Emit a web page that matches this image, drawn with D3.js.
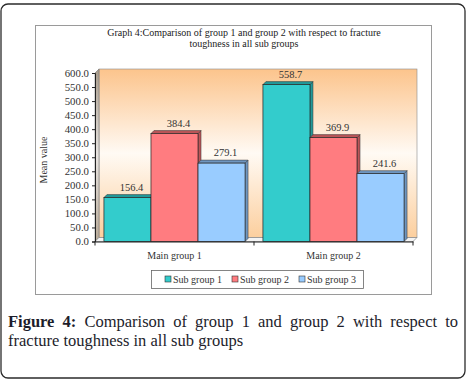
<!DOCTYPE html>
<html><head><meta charset="utf-8">
<script src="https://cdn.jsdelivr.net/npm/d3@7"></script>
<style>
html,body{margin:0;padding:0;background:#fff;width:466px;height:384px;overflow:hidden;}
#cap{position:absolute;left:8px;top:312px;width:450px;font-family:"Liberation Serif","Tinos","Nimbus Roman","DejaVu Serif";font-size:16.5px;line-height:19px;color:#1d1d2b;}
#cap .l1{text-align:justify;text-align-last:justify;white-space:normal;}
#cap .l2{text-align:left;}
</style></head><body>
<div id="wrap" style="position:relative;width:466px;height:384px;"></div>
<script>
const groups = ["Main group 1", "Main group 2"];
const subGroups = ["Sub group 1", "Sub group 2", "Sub group 3"];
const sub1 = [156.4, 558.7];
const sub2 = [384.4, 369.9];
const sub3 = [279.1, 241.6];
const yTicks = [0, 50, 100, 150, 200, 250, 300, 350, 400, 450, 500, 550, 600];
const titleLines = ["Graph 4:Comparison of group 1 and group 2 with respect to fracture", "toughness in all sub groups"];
const yLabel = "Mean value";
const captionBold = "Figure 4:";
const captionLines = ["Comparison of group 1 and group 2 with respect to", "fracture toughness in all sub groups"];

const series = [sub1, sub2, sub3];
const colors = ["#33cccc", "#ff7c80", "#99ccff"];
const darker = ["#229999", "#bb5558", "#6f96c0"];

const wrap = d3.select("#wrap");
const svg = wrap.append("svg").attr("width", 466).attr("height", 384)
  .style("position","absolute").style("left",0).style("top",0);

svg.append("rect").attr("x",1).attr("y",4).attr("width",464).attr("height",374)
  .attr("rx",7).attr("fill","none").attr("stroke","#2b2b2b").attr("stroke-width",1.3);
svg.append("rect").attr("x",35.5).attr("y",25.5).attr("width",396).attr("height",269)
  .attr("fill","#fff").attr("stroke","#9a9a9a").attr("stroke-width",1);

const serif = "'Liberation Serif','Tinos','Nimbus Roman','DejaVu Serif'";
titleLines.forEach((t,i)=>{
  svg.append("text").attr("x",244).attr("y",36+i*11).attr("text-anchor","middle")
    .attr("font-family",serif).attr("font-size",10).attr("fill","#222").text(t);
});

const y = d3.scaleLinear().domain([0,600]).range([241.5,73]);
const x0 = d3.scaleBand().domain(groups).range([95,413]);
const x1 = d3.scaleBand().domain(subGroups).range([0,x0.bandwidth()]).paddingOuter(0.19);

const D = 4;
const defs = svg.append("defs");
const g1 = defs.append("linearGradient").attr("id","wall").attr("x1",0).attr("y1",0).attr("x2",0).attr("y2",1);
g1.append("stop").attr("offset","0%").attr("stop-color","#fcc48c");
g1.append("stop").attr("offset","50%").attr("stop-color","#fffaf4");
g1.append("stop").attr("offset","100%").attr("stop-color","#fccf9e");
const g2 = defs.append("linearGradient").attr("id","side").attr("x1",0).attr("y1",0).attr("x2",0).attr("y2",1);
g2.append("stop").attr("offset","0%").attr("stop-color","#a89c8c");
g2.append("stop").attr("offset","50%").attr("stop-color","#e8e4e0");
g2.append("stop").attr("offset","100%").attr("stop-color","#b8aa98");

const xl = x0.range()[0], xr = x0.range()[1], yb = y(0), yt = y(600);
svg.append("rect").attr("x",xl+D).attr("y",yt-D).attr("width",xr-xl).attr("height",yb-yt)
  .attr("fill","url(#wall)").attr("stroke","#8a8a8a").attr("stroke-width",0.6);
svg.append("polygon").attr("points",[[xl,yb],[xl,yt],[xl+D,yt-D],[xl+D,yb-D]].join(" "))
  .attr("fill","url(#side)").attr("stroke","#777").attr("stroke-width",0.6);
svg.append("polygon").attr("points",[[xl,yb],[xr,yb],[xr+D,yb-D],[xl+D,yb-D]].join(" "))
  .attr("fill","#f4f4f4").attr("stroke","#777").attr("stroke-width",0.6);

const d = 3;
const bw = x1.bandwidth();
groups.forEach((gname,gi)=>{
  subGroups.forEach((s,si)=>{
    const v = series[si][gi];
    const bx = x0(gname)+x1(s), by = y(v), bb = y(0);
    const bar = svg.append("g");
    bar.append("polygon").attr("points",[[bx+bw,bb],[bx+bw,by],[bx+bw+d,by-d],[bx+bw+d,bb-d]].join(" "))
      .attr("fill",darker[si]).attr("stroke","#333").attr("stroke-width",0.5);
    bar.append("polygon").attr("points",[[bx,by],[bx+d,by-d],[bx+bw+d,by-d],[bx+bw,by]].join(" "))
      .attr("fill",darker[si]).attr("stroke","#333").attr("stroke-width",0.5);
    bar.append("rect").attr("x",bx).attr("y",by).attr("width",bw).attr("height",bb-by)
      .attr("fill",colors[si]).attr("stroke","#222").attr("stroke-width",0.7);
    svg.append("text").attr("x",bx+bw/2+4).attr("y",by-7).attr("text-anchor","middle")
      .attr("font-family",serif).attr("font-size",10.5).attr("fill","#333").text(v.toFixed(1));
  });
});

const ya = svg.append("g").attr("transform",`translate(${xl},0)`)
  .call(d3.axisLeft(y).tickValues(yTicks).tickFormat(d3.format(".1f")).tickSize(3).tickPadding(3));
ya.select(".domain").attr("stroke","#222");
ya.selectAll(".tick line").attr("stroke","#222");
ya.selectAll("text").attr("font-family",serif).attr("font-size",10.8).attr("fill","#333");

const xa = svg.append("g").attr("transform",`translate(0,${yb})`)
  .call(d3.axisBottom(x0).tickSize(0).tickPadding(10));
xa.select(".domain").attr("stroke","#222");
xa.selectAll("text").attr("font-family",serif).attr("font-size",10).attr("fill","#333");
[xl, x0(groups[1]), xr].forEach(xx=>{
  svg.append("line").attr("x1",xx).attr("x2",xx).attr("y1",yb).attr("y2",yb+4).attr("stroke","#222");
});

svg.append("text").attr("transform","translate(47,160) rotate(-90)").attr("text-anchor","middle")
  .attr("font-family",serif).attr("font-size",10).attr("fill","#333").text(yLabel);

svg.append("rect").attr("x",151.5).attr("y",270.5).attr("width",212).attr("height",18)
  .attr("fill","#fff").attr("stroke","#666").attr("stroke-width",0.8);
const lx = [165, 232, 299];
subGroups.forEach((s,i)=>{
  svg.append("rect").attr("x",lx[i]).attr("y",276).attr("width",6).attr("height",6)
    .attr("fill",colors[i]).attr("stroke","#333").attr("stroke-width",0.6);
  svg.append("text").attr("x",lx[i]+8).attr("y",283).attr("font-family",serif)
    .attr("font-size",10).attr("fill","#333").text(s);
});

const cap = wrap.append("div").attr("id","cap");
const l1 = cap.append("div").attr("class","l1");
l1.append("b").text(captionBold);
l1.append("span").text(" " + captionLines[0]);
cap.append("div").attr("class","l2").append("span").text(captionLines[1]);
</script>
</body></html>
